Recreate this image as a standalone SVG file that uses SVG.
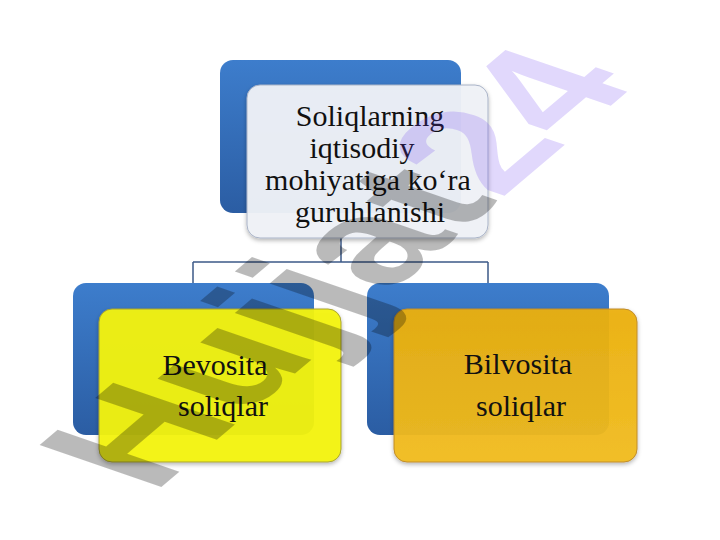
<svg xmlns="http://www.w3.org/2000/svg" width="720" height="540" viewBox="0 0 720 540">
<defs>
<linearGradient id="blue" x1="0" y1="0" x2="0" y2="1">
<stop offset="0" stop-color="#3d7dcc"/>
<stop offset="1" stop-color="#2b5da3"/>
</linearGradient>
<linearGradient id="orange" x1="0" y1="0" x2="0" y2="1">
<stop offset="0" stop-color="#ecb00e"/>
<stop offset="1" stop-color="#f2bd1e"/>
</linearGradient>
<filter id="sh" x="-10%" y="-10%" width="120%" height="125%">
<feDropShadow dx="0" dy="2" stdDeviation="2" flood-color="#000" flood-opacity="0.3"/>
</filter>
<style>
.back{fill:url(#blue);}
.front{filter:url(#sh);}
.lbl{font-family:"Liberation Serif","Times New Roman",serif;font-size:30px;fill:#111;text-anchor:middle;}
.conn{fill:none;stroke:#3c5a88;stroke-width:1.5;}
.wm{font-family:"Liberation Sans",Arial,sans-serif;font-weight:bold;font-size:100px;}
</style>
</defs>
<rect width="720" height="540" fill="#ffffff"/>
<g id="connectors">
<path class="conn" d="M341 238 V262 M193 262 H488 M193 262 V284 M488 262 V284"/>
</g>
<g id="node-top">
<rect class="back" x="220" y="60" width="241" height="153" rx="13"/>
<rect class="front" x="247" y="85" width="241" height="153" rx="13" fill="#f0f2f8" fill-opacity="0.95" stroke="#a9b3c7" stroke-width="1"/>
<text class="lbl" x="370" y="126">Soliqlarning</text>
<text class="lbl" x="362" y="158">iqtisodiy</text>
<text class="lbl" x="368" y="190">mohiyatiga ko‘ra</text>
<text class="lbl" x="370" y="222">guruhlanishi</text>
</g>
<g id="node-bevosita">
<rect class="back" x="73" y="283" width="241" height="152" rx="13"/>
<rect class="front" x="99" y="309" width="242" height="153" rx="13" fill="#f4f40a" fill-opacity="0.94" stroke="#a8a232" stroke-width="1"/>
<text class="lbl" x="215" y="375">Bevosita</text>
<text class="lbl" x="223" y="416">soliqlar</text>
</g>
<g id="node-bilvosita">
<rect class="back" x="367" y="283" width="242" height="152" rx="13"/>
<rect class="front" x="394" y="309" width="243" height="153" rx="13" fill="url(#orange)" fill-opacity="0.94" stroke="#c08c2a" stroke-width="1"/>
<text class="lbl" x="518" y="374">Bilvosita</text>
<text class="lbl" x="521" y="416">soliqlar</text>
</g>
<g id="watermark">
<text class="wm" transform="matrix(1.25,-1.06,1.77,0.61,153,494)"><tspan fill="#000" fill-opacity="0.27">Hujjat</tspan><tspan fill="#6a3cf0" fill-opacity="0.2">24</tspan></text>
</g>
</svg>
